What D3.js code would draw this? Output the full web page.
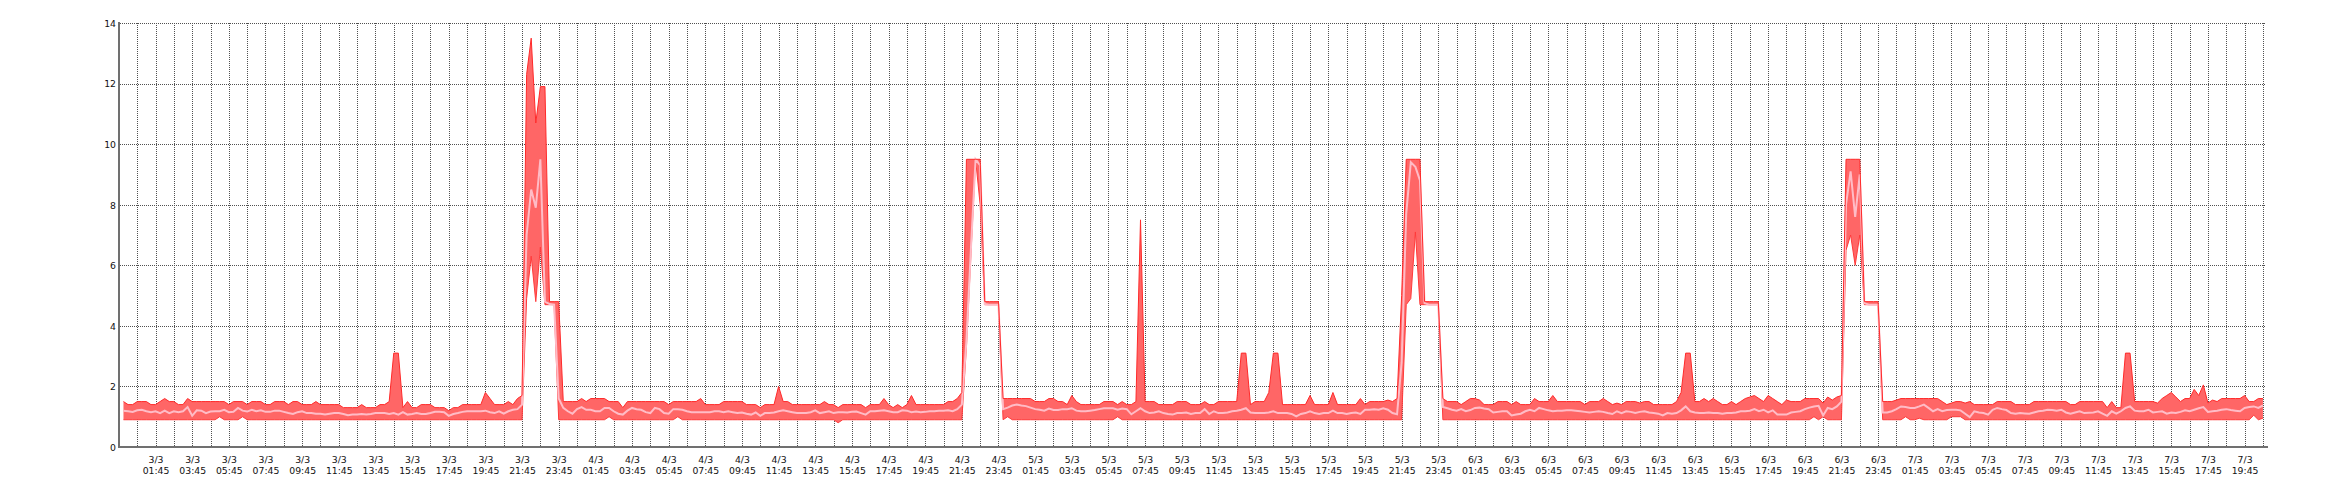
<!DOCTYPE html>
<html><head><meta charset="utf-8">
<script src="https://cdn.jsdelivr.net/npm/d3@7/dist/d3.min.js"></script>
<style>
html,body{margin:0;padding:0;background:#fff;}
svg{display:block;}
text{font-family:"DejaVu Sans",Verdana,sans-serif;font-size:9.3px;fill:#111;}
</style></head><body>
<svg id="chart" width="2340" height="500"></svg>
<script>
// 15-minute samples from 3/3 00:00 to 7/3 20:45
const maxValues = [
1.5,1.4,1.4,1.5,1.5,1.5,1.4,1.4,1.5,1.6,1.5,1.5,1.4,1.4,1.6,1.5,1.5,1.5,1.5,1.5,1.5,1.5,1.5,1.4,
1.5,1.5,1.5,1.4,1.5,1.5,1.5,1.4,1.4,1.5,1.5,1.5,1.4,1.5,1.5,1.4,1.4,1.4,1.5,1.4,1.4,1.4,1.4,1.4,
1.3,1.3,1.3,1.3,1.4,1.3,1.3,1.3,1.4,1.4,1.5,3.1,3.1,1.3,1.5,1.3,1.3,1.4,1.4,1.4,1.3,1.3,1.3,1.2,
1.3,1.3,1.4,1.4,1.4,1.4,1.4,1.8,1.6,1.4,1.4,1.4,1.5,1.4,1.6,1.7,12.3,13.5,10.7,11.9,11.9,4.8,4.8,4.8,
1.5,1.5,1.5,1.5,1.6,1.5,1.6,1.6,1.6,1.6,1.5,1.5,1.5,1.3,1.5,1.5,1.5,1.5,1.5,1.5,1.5,1.5,1.5,1.4,
1.5,1.5,1.5,1.5,1.5,1.5,1.6,1.4,1.4,1.4,1.4,1.5,1.5,1.5,1.5,1.5,1.4,1.4,1.4,1.3,1.4,1.4,1.4,2.0,
1.5,1.5,1.4,1.4,1.4,1.4,1.4,1.4,1.4,1.5,1.4,1.4,1.3,1.4,1.4,1.4,1.4,1.4,1.3,1.4,1.4,1.4,1.6,1.4,
1.3,1.4,1.3,1.4,1.7,1.4,1.4,1.4,1.4,1.4,1.4,1.4,1.5,1.5,1.6,1.8,9.5,9.5,9.5,9.5,4.8,4.8,4.8,4.8,
1.6,1.6,1.6,1.6,1.6,1.6,1.6,1.5,1.5,1.5,1.6,1.6,1.5,1.5,1.4,1.7,1.5,1.4,1.4,1.4,1.4,1.4,1.5,1.5,
1.5,1.4,1.5,1.4,1.4,1.5,7.5,1.5,1.5,1.5,1.4,1.4,1.4,1.4,1.5,1.5,1.5,1.4,1.4,1.4,1.5,1.4,1.4,1.5,
1.5,1.5,1.5,1.5,3.1,3.1,1.4,1.5,1.5,1.5,1.8,3.1,3.1,1.4,1.4,1.4,1.4,1.4,1.4,1.7,1.4,1.4,1.4,1.4,
1.8,1.4,1.4,1.4,1.4,1.4,1.6,1.4,1.5,1.5,1.5,1.5,1.55,1.5,1.6,5.0,9.5,9.5,9.5,9.5,4.8,4.8,4.8,4.8,
1.6,1.5,1.5,1.5,1.4,1.5,1.6,1.6,1.55,1.4,1.4,1.4,1.5,1.5,1.5,1.4,1.5,1.4,1.4,1.4,1.6,1.5,1.5,1.5,
1.7,1.5,1.5,1.5,1.5,1.5,1.5,1.4,1.5,1.5,1.5,1.6,1.5,1.4,1.45,1.4,1.5,1.5,1.5,1.45,1.5,1.5,1.4,1.4,
1.4,1.4,1.4,1.5,1.8,3.1,3.1,1.5,1.5,1.6,1.5,1.6,1.5,1.4,1.4,1.5,1.4,1.5,1.6,1.65,1.7,1.6,1.5,1.7,
1.6,1.5,1.4,1.55,1.5,1.5,1.5,1.6,1.6,1.6,1.6,1.45,1.65,1.55,1.65,1.7,9.5,9.5,9.5,9.5,4.8,4.8,4.8,4.8,
1.5,1.5,1.5,1.55,1.6,1.6,1.6,1.6,1.6,1.6,1.6,1.6,1.6,1.5,1.4,1.45,1.5,1.5,1.45,1.5,1.4,1.4,1.4,1.4,
1.4,1.5,1.5,1.5,1.5,1.4,1.4,1.4,1.4,1.5,1.5,1.5,1.5,1.5,1.5,1.5,1.5,1.4,1.4,1.5,1.5,1.5,1.5,1.5,
1.5,1.3,1.5,1.3,1.3,3.1,3.1,1.5,1.5,1.5,1.5,1.5,1.45,1.6,1.7,1.8,1.65,1.5,1.6,1.6,1.9,1.7,2.05,1.45,
1.55,1.5,1.6,1.6,1.6,1.6,1.6,1.7,1.5,1.5,1.6,1.6
];
const minValues = [
0.9,0.9,0.9,0.9,0.9,0.9,0.9,0.9,0.9,0.9,0.9,0.9,0.9,0.9,0.9,0.9,0.9,0.9,0.9,0.9,0.9,1.0,0.9,0.9,
0.9,0.9,1.0,0.9,0.9,0.9,0.9,0.9,0.9,0.9,0.9,0.9,0.9,0.9,0.9,0.9,0.9,0.9,0.9,0.9,0.9,0.9,0.9,0.9,
0.9,0.9,0.9,0.9,0.9,0.9,0.9,0.9,0.9,0.9,0.9,0.9,0.9,0.9,0.9,0.9,0.9,0.9,0.9,0.9,0.9,0.9,0.9,0.9,
0.9,0.9,0.9,0.9,0.9,0.9,0.9,0.9,0.9,0.9,0.9,0.9,0.9,0.9,0.9,0.9,4.9,6.3,4.8,6.6,4.7,4.7,4.7,0.9,
0.9,0.9,0.9,0.9,0.9,0.9,0.9,0.9,0.9,0.9,1.0,0.9,0.9,0.9,0.9,0.9,0.9,0.9,0.9,0.9,0.9,0.9,0.9,0.9,
0.9,1.0,0.9,0.9,0.9,0.9,0.9,0.9,0.9,0.9,0.9,0.9,0.9,0.9,0.9,0.9,0.9,0.9,0.9,0.9,0.9,0.9,0.9,0.9,
0.9,0.9,0.9,0.9,0.9,0.9,0.9,0.9,0.9,0.9,0.9,0.9,0.8,0.9,0.9,0.9,0.9,0.9,0.9,0.9,0.9,0.9,0.9,0.9,
0.9,0.9,0.9,0.9,0.9,0.9,0.9,0.9,0.9,0.9,0.9,0.9,0.9,0.9,0.9,0.9,3.3,6.4,9.5,8.0,4.7,4.7,4.7,4.7,
0.9,1.0,0.9,0.9,0.9,0.9,0.9,0.9,0.9,0.9,0.9,0.9,0.9,0.9,0.9,0.9,0.9,0.9,0.9,0.9,0.9,0.9,0.9,0.9,
0.9,1.0,0.9,0.9,0.9,0.9,0.9,0.9,0.9,0.9,0.9,0.9,0.9,0.9,0.9,0.9,0.9,0.9,0.9,0.9,0.9,0.9,0.9,0.9,
0.9,0.9,0.9,0.9,0.9,0.9,0.9,0.9,0.9,0.9,0.9,0.9,0.9,0.9,0.9,0.9,0.9,0.9,0.9,0.9,0.9,0.9,0.9,0.9,
0.9,0.9,0.9,0.9,0.9,0.9,0.9,0.9,0.9,0.9,0.9,0.9,0.9,0.9,0.9,0.9,4.7,4.9,7.1,4.7,4.7,4.7,4.7,4.7,
0.9,0.9,0.9,0.9,0.9,0.9,0.9,0.9,0.9,0.9,0.9,0.9,0.9,0.9,0.9,0.9,0.9,0.9,0.9,0.9,0.9,0.9,0.9,0.9,
0.9,0.9,0.9,0.9,0.9,0.9,0.9,0.9,0.9,0.9,0.9,0.9,0.9,0.9,0.9,0.9,0.9,0.9,0.9,0.9,0.9,0.9,0.9,0.9,
0.9,0.9,0.9,0.9,0.9,0.9,0.9,0.9,0.9,0.9,0.9,0.9,0.9,0.9,0.9,0.9,0.9,0.9,0.9,0.9,0.9,0.9,0.9,0.9,
0.9,0.9,0.9,0.9,0.9,0.9,0.9,0.9,0.9,1.0,0.9,1.0,0.9,0.9,0.9,0.9,6.5,7.0,6.0,7.0,4.7,4.7,4.7,4.7,
0.9,0.9,0.9,0.9,0.9,1.0,0.9,0.9,0.95,0.9,0.9,0.9,0.9,0.9,0.9,1.0,1.0,1.0,0.9,0.9,0.9,0.9,0.9,0.9,
0.9,0.9,0.9,0.9,0.9,0.9,0.9,0.9,0.9,0.9,0.9,0.9,0.9,0.9,0.9,0.9,0.9,0.9,0.9,0.9,0.9,0.9,0.9,0.9,
0.9,0.9,0.9,0.9,0.9,0.9,0.9,0.9,0.9,0.9,0.9,0.9,0.9,0.9,0.9,0.9,0.9,0.9,0.9,0.9,0.9,0.9,0.9,0.9,
0.9,0.9,0.9,0.9,0.9,0.9,0.9,0.9,0.9,1.05,0.9,0.95
];
const avgValues = [
1.2,1.18,1.16,1.21,1.23,1.18,1.15,1.18,1.12,1.2,1.12,1.18,1.15,1.18,1.32,1.03,1.21,1.2,1.12,1.17,1.18,1.18,1.23,1.15,
1.16,1.29,1.2,1.17,1.23,1.18,1.21,1.16,1.16,1.2,1.2,1.16,1.12,1.09,1.15,1.18,1.12,1.12,1.1,1.1,1.07,1.1,1.12,1.12,
1.09,1.05,1.07,1.07,1.09,1.07,1.09,1.12,1.12,1.12,1.09,1.12,1.07,1.15,1.07,1.09,1.12,1.09,1.09,1.12,1.16,1.16,1.15,1.03,
1.09,1.12,1.16,1.18,1.18,1.18,1.18,1.2,1.15,1.12,1.18,1.1,1.18,1.23,1.25,1.4,7.0,8.5,7.9,9.5,4.8,4.72,4.7,1.6,
1.29,1.18,1.1,1.25,1.32,1.23,1.23,1.18,1.18,1.29,1.29,1.18,1.1,1.07,1.2,1.29,1.25,1.23,1.15,1.12,1.29,1.25,1.12,1.1,
1.25,1.25,1.23,1.18,1.15,1.15,1.15,1.15,1.15,1.18,1.18,1.15,1.18,1.15,1.12,1.14,1.1,1.07,1.14,1.03,1.12,1.12,1.14,1.18,
1.21,1.18,1.15,1.12,1.12,1.12,1.15,1.21,1.12,1.15,1.18,1.12,1.15,1.15,1.14,1.16,1.17,1.12,1.07,1.18,1.18,1.2,1.21,1.18,
1.15,1.15,1.21,1.2,1.15,1.17,1.15,1.16,1.18,1.18,1.2,1.2,1.21,1.18,1.25,1.4,3.5,6.6,9.5,9.3,4.72,4.7,4.7,4.7,
1.25,1.3,1.37,1.4,1.37,1.35,1.3,1.25,1.23,1.2,1.27,1.22,1.22,1.25,1.25,1.28,1.2,1.18,1.18,1.2,1.22,1.25,1.28,1.28,
1.28,1.23,1.27,1.25,1.08,1.18,1.28,1.18,1.12,1.14,1.18,1.12,1.09,1.07,1.12,1.12,1.14,1.09,1.12,1.12,1.25,1.09,1.18,1.12,
1.12,1.14,1.18,1.2,1.23,1.28,1.14,1.12,1.12,1.12,1.14,1.18,1.12,1.12,1.12,1.09,1.01,1.09,1.12,1.18,1.12,1.09,1.12,1.12,
1.2,1.12,1.12,1.09,1.12,1.14,1.09,1.23,1.23,1.25,1.23,1.28,1.23,1.12,1.08,2.8,7.7,9.4,9.25,8.8,4.75,4.7,4.7,4.7,
1.32,1.28,1.23,1.2,1.25,1.18,1.22,1.29,1.3,1.27,1.25,1.14,1.16,1.18,1.18,1.04,1.07,1.1,1.18,1.23,1.18,1.29,1.25,1.21,
1.18,1.2,1.2,1.21,1.21,1.2,1.18,1.16,1.14,1.16,1.18,1.16,1.12,1.09,1.18,1.12,1.18,1.16,1.12,1.16,1.18,1.14,1.12,1.1,
1.04,1.12,1.1,1.12,1.21,1.34,1.18,1.14,1.12,1.12,1.14,1.12,1.12,1.1,1.12,1.12,1.14,1.18,1.18,1.2,1.25,1.18,1.23,1.14,
1.21,1.07,1.07,1.07,1.14,1.16,1.18,1.25,1.3,1.34,1.36,1.04,1.29,1.25,1.34,1.5,8.0,9.1,7.6,9.0,4.75,4.7,4.7,4.7,
1.14,1.14,1.18,1.25,1.34,1.32,1.29,1.29,1.34,1.4,1.29,1.18,1.25,1.18,1.22,1.23,1.23,1.21,1.1,0.99,1.18,1.14,1.12,1.07,
1.23,1.29,1.25,1.22,1.12,1.1,1.12,1.11,1.1,1.14,1.18,1.2,1.23,1.22,1.2,1.23,1.14,1.1,1.14,1.18,1.12,1.13,1.14,1.18,
1.1,1.03,1.18,1.1,1.18,1.29,1.34,1.2,1.18,1.18,1.23,1.14,1.16,1.18,1.1,1.14,1.12,1.16,1.21,1.18,1.23,1.28,1.32,1.16,
1.18,1.2,1.23,1.25,1.22,1.2,1.18,1.29,1.32,1.34,1.29,1.37
];
const yTickValues = [0, 2, 4, 6, 8, 10, 12, 14];
const sampleStart = new Date(2014, 2, 3, 0, 0);
const sampleStepMinutes = 15;
const firstGridTime = new Date(2014, 2, 3, 0, 45);
const gridCount = 117;          // hourly grid lines 00:45 ... 20:45
const firstLabelTime = new Date(2014, 2, 3, 1, 45);
const labelCount = 58;          // every 2 hours 01:45 ... 19:45
const domainStart = new Date(2014, 2, 2, 23, 47);
const domainEnd = new Date(2014, 2, 7, 21, 0);

if (maxValues.length !== 468 || minValues.length !== 468 || avgValues.length !== 468) {
  throw new Error("lengths " + maxValues.length + " " + minValues.length + " " + avgValues.length);
}

const svg = d3.select("#chart");
const x = d3.scaleTime().domain([domainStart, domainEnd]).range([119.5, 2267.5]);
const y = d3.scaleLinear().domain([0, 14]).range([447, 23]);
const crisp = v => Math.round(v) + 0.5;

const data = maxValues.map((v, i) => ({
  t: d3.timeMinute.offset(sampleStart, i * sampleStepMinutes),
  max: v, min: minValues[i], avg: avgValues[i]
}));

const gridTimes = d3.range(gridCount).map(i => d3.timeHour.offset(firstGridTime, i));
const labelTimes = d3.range(labelCount).map(i => d3.timeHour.offset(firstLabelTime, 2 * i));

// grid
const grid = svg.append("g").attr("stroke", "#505050").attr("stroke-width", 1).attr("stroke-dasharray", "1,1");
grid.selectAll("line.h").data(yTickValues.filter(v => v > 0)).join("line")
  .attr("x1", 120).attr("x2", 2266)
  .attr("y1", d => crisp(y(d))).attr("y2", d => crisp(y(d)));
grid.selectAll("line.v").data(gridTimes).join("line")
  .attr("x1", d => crisp(x(d))).attr("x2", d => crisp(x(d)))
  .attr("y1", 23).attr("y2", 447);

// band
const area = d3.area().x(d => x(d.t)).y0(d => y(d.min)).y1(d => y(d.max));
svg.append("path").datum(data).attr("d", area).attr("fill", "#ff6666");
svg.append("path").datum(data)
  .attr("d", d3.line().x(d => x(d.t)).y(d => y(d.min)))
  .attr("fill", "none").attr("stroke", "#ff3a3a").attr("stroke-width", 1);
svg.append("path").datum(data)
  .attr("d", d3.line().x(d => x(d.t)).y(d => y(d.avg)))
  .attr("fill", "none").attr("stroke", "#ffbcc6").attr("stroke-width", 2);
svg.append("path").datum(data)
  .attr("d", d3.line().x(d => x(d.t)).y(d => y(d.max)))
  .attr("fill", "none").attr("stroke", "#ff2a2a").attr("stroke-width", 1);

// axes
const yAxis = svg.append("g").attr("transform", "translate(119,0)")
  .call(d3.axisLeft(y).tickValues(yTickValues).tickSize(0).tickPadding(3).tickFormat(d3.format("d")));
yAxis.select(".domain").attr("stroke", "#707070").attr("stroke-width", 2).attr("d", "M0,22V448");
yAxis.selectAll("text").attr("font-family", null).attr("font-size", null).attr("fill", "#111").attr("dy", "0.36em");

const xAxis = svg.append("g").attr("transform", "translate(0,447)")
  .call(d3.axisBottom(x).tickValues(labelTimes).tickSize(0).tickFormat(""));
xAxis.select(".domain").attr("stroke", "#707070").attr("stroke-width", 2).attr("d", "M118,0H2268");
xAxis.selectAll(".tick text").remove();
const fmtDay = d3.timeFormat("%-d/%-m");
const fmtTime = d3.timeFormat("%H:%M");
const ticks = xAxis.selectAll(".tick");
ticks.append("text").attr("text-anchor", "middle").attr("y", 15.5).text(d => fmtDay(d));
ticks.append("text").attr("text-anchor", "middle").attr("y", 27).text(d => fmtTime(d));
</script>
</body></html>
